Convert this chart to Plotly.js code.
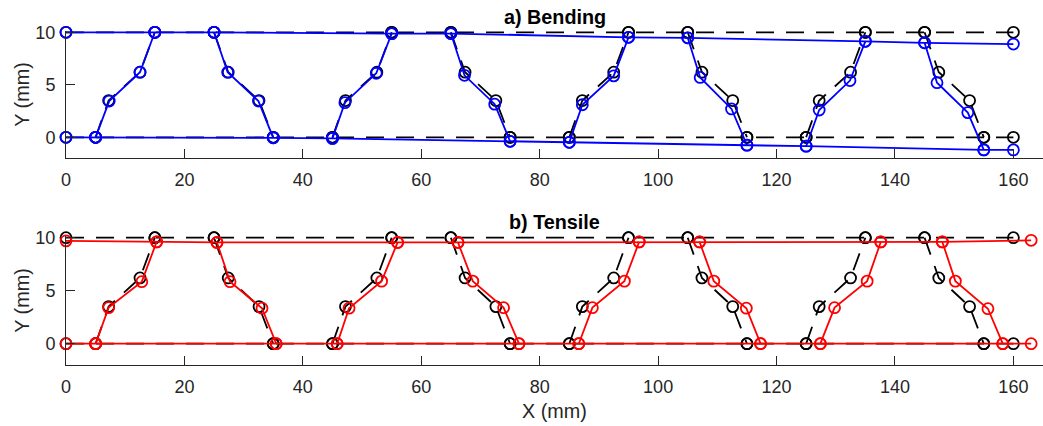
<!DOCTYPE html>
<html>
<head>
<meta charset="utf-8">
<script src="https://cdn.plot.ly/plotly-3.0.1.min.js"></script>
<style>html,body{margin:0;padding:0;background:#fff;}#chart{width:1043px;height:426px;}</style>
</head>
<body>
<div id="chart"></div>
<script>
// ---------- Undeformed (reference) geometry ----------
const refTopX = [0, 15, 25, 55, 65, 95, 105, 135, 145, 160];
const refTopY = [10, 10, 10, 10, 10, 10, 10, 10, 10, 10];
const refBotX = [0, 5, 35, 45, 75, 85, 115, 125, 155, 160];
const refBotY = [0, 0, 0, 0, 0, 0, 0, 0, 0, 0];
const refStrutX = [5, 7.2, 12.5, 15, null, 25, 27.4, 32.6, 35, null,
                   45, 47.2, 52.5, 55, null, 65, 67.4, 72.6, 75, null,
                   85, 87.2, 92.5, 95, null, 105, 107.4, 112.6, 115, null,
                   125, 127.2, 132.5, 135, null, 145, 147.4, 152.6, 155];
const refStrutY = [0, 3.5, 6.2, 10, null, 10, 6.2, 3.5, 0, null,
                   0, 3.5, 6.2, 10, null, 10, 6.2, 3.5, 0, null,
                   0, 3.5, 6.2, 10, null, 10, 6.2, 3.5, 0, null,
                   0, 3.5, 6.2, 10, null, 10, 6.2, 3.5, 0];

// ---------- a) Bending: deformed geometry ----------
const bendTopX = [0, 15, 25, 55, 65, 95, 105, 135, 145, 160];
const bendTopY = [10, 10, 10, 9.87, 9.88, 9.52, 9.47, 9.14, 9.0, 8.88];
const bendBotX = [0, 5, 35, 45, 75, 85, 115, 125, 155, 160];
const bendBotY = [0, 0, -0.05, -0.1, -0.38, -0.48, -0.75, -0.85, -1.2, -1.2];
const bendStrutX = [5, 7.3, 12.5, 15, null, 25, 27.3, 32.5, 35, null,
                    45, 47.1, 52.4, 55, null, 65, 67.3, 72.4, 75, null,
                    85, 87.2, 92.5, 95, null, 105, 107.1, 112.4, 115, null,
                    125, 127.2, 132.4, 135, null, 145, 147.1, 152.3, 155];
const bendStrutY = [0, 3.45, 6.2, 10, null, 10, 6.2, 3.45, -0.05, null,
                    -0.1, 3.3, 6.1, 9.87, null, 9.88, 5.9, 3.15, -0.38, null,
                    -0.48, 3.1, 5.85, 9.52, null, 9.47, 5.7, 2.7, -0.75, null,
                    -0.85, 2.6, 5.4, 9.14, null, 9.0, 5.2, 2.35, -1.2];

// ---------- b) Tensile: deformed geometry ----------
const tensTopX = [0, 15.3, 25.5, 56, 66.2, 96.8, 107, 137.6, 148, 163];
const tensTopY = [9.7, 9.6, 9.55, 9.55, 9.55, 9.6, 9.6, 9.6, 9.6, 9.75];
const tensBotX = [0, 5, 35.5, 45.8, 76.5, 86.6, 117.3, 127.4, 158.2, 163];
const tensBotY = [0, 0, 0, 0, 0, 0, 0, 0, 0, 0];
const tensStrutX = [5, 7.2, 12.8, 15.3, null, 25.5, 27.7, 33.1, 35.5, null,
                    45.8, 47.8, 53.3, 56, null, 66.2, 68.7, 73.9, 76.5, null,
                    86.6, 88.9, 94.3, 96.8, null, 107, 109.4, 114.9, 117.3, null,
                    127.4, 129.8, 135.3, 137.6, null, 148, 150.2, 155.7, 158.2];
const tensStrutY = [0, 3.4, 5.85, 9.6, null, 9.55, 5.85, 3.35, 0, null,
                    0, 3.35, 5.9, 9.55, null, 9.55, 5.9, 3.4, 0, null,
                    0, 3.4, 5.9, 9.6, null, 9.6, 5.9, 3.35, 0, null,
                    0, 3.4, 5.9, 9.6, null, 9.6, 5.9, 3.3, 0];

const xTicks = [0, 20, 40, 60, 80, 100, 120, 140, 160];
const yTicks = [0, 5, 10];

function join(a, b, c) { return a.concat([null], b, [null], c); }

const MS = 11, LW = 1.8;
function refTrace(xa, ya) {
  return {
    x: join(refTopX, refBotX, refStrutX), y: join(refTopY, refBotY, refStrutY),
    xaxis: xa, yaxis: ya, type: 'scatter', mode: 'lines+markers', cliponaxis: false,
    connectgaps: false, hoverinfo: 'skip',
    line: {color: '#000000', width: LW, dash: '18px,12px'},
    marker: {symbol: 'circle-open', size: MS, color: '#000000', line: {width: LW, color: '#000000'}}
  };
}
function defTrace(xs, ys, color, xa, ya) {
  return {
    x: xs, y: ys, xaxis: xa, yaxis: ya, type: 'scatter', mode: 'lines+markers', cliponaxis: false,
    connectgaps: false, hoverinfo: 'skip',
    line: {color: color, width: LW},
    marker: {symbol: 'circle-open', size: MS, color: color, line: {width: LW, color: color}}
  };
}

const data = [
  refTrace('x', 'y'),
  defTrace(join(bendTopX, bendBotX, bendStrutX), join(bendTopY, bendBotY, bendStrutY), '#0000ff', 'x', 'y'),
  refTrace('x2', 'y2'),
  defTrace(join(tensTopX, tensBotX, tensStrutX), join(tensTopY, tensBotY, tensStrutY), '#ff0000', 'x2', 'y2')
];

const FONT = 'Liberation Sans, Arial, Helvetica, sans-serif';
const GRAY = '#262626';
function xax(anchor, withTitle) {
  const a = {
    anchor: anchor, range: [0, 165], tickvals: xTicks, ticktext: xTicks.map(String),
    ticks: 'inside', ticklen: 9, tickwidth: 1, tickcolor: GRAY,
    showline: true, linecolor: GRAY, linewidth: 1, showgrid: false, zeroline: false,
    tickfont: {family: FONT, size: 18, color: GRAY}, ticklabelstandoff: 5, fixedrange: true
  };
  if (withTitle) a.title = {text: 'X (mm)', font: {family: FONT, size: 19.8, color: GRAY}, standoff: 8};
  return a;
}
function yax(anchor, domain) {
  return {
    anchor: anchor, domain: domain, range: [-2, 10.15], tickvals: yTicks, ticktext: yTicks.map(String),
    ticks: 'inside', ticklen: 9, tickwidth: 1, tickcolor: GRAY,
    showline: true, linecolor: GRAY, linewidth: 1, showgrid: false, zeroline: false,
    tickfont: {family: FONT, size: 18, color: GRAY}, ticklabelstandoff: 6,
    title: {text: 'Y (mm)', font: {family: FONT, size: 19.8, color: GRAY}, standoff: 0},
    fixedrange: true
  };
}

const layout = {
  width: 1043, height: 426,
  margin: {l: 66, r: 0, t: 0, b: 0, pad: 0},
  paper_bgcolor: '#ffffff', plot_bgcolor: '#ffffff',
  showlegend: false,
  xaxis: xax('y', false),
  yaxis: yax('x', [1 - 158.3/426, 1 - 30.7/426]),
  xaxis2: xax('y2', true),
  yaxis2: yax('x2', [1 - 364.9/426, 1 - 236.1/426]),
  annotations: [
    {text: '<b>a) Bending</b>', xref: 'paper', yref: 'paper', x: 0.5, y: 1 - 17/426,
     xanchor: 'center', yanchor: 'middle', showarrow: false, font: {family: FONT, size: 19.8, color: '#000000'}},
    {text: '<b>b) Tensile</b>', xref: 'paper', yref: 'paper', x: 0.5, y: 1 - 222/426,
     xanchor: 'center', yanchor: 'middle', showarrow: false, font: {family: FONT, size: 19.8, color: '#000000'}}
  ]
};

Plotly.newPlot('chart', data, layout, {displayModeBar: false, staticPlot: true});
</script>
</body>
</html>
